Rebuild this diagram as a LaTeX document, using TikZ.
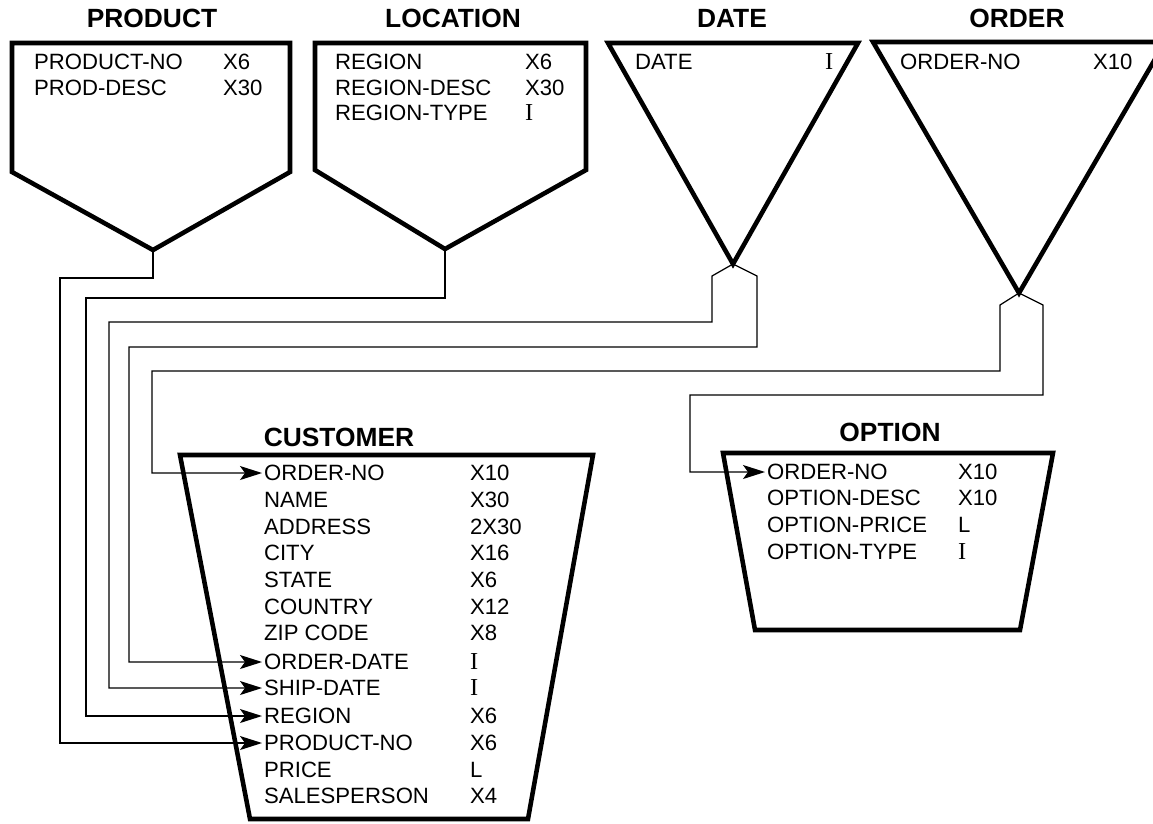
\documentclass[tikz,border=0pt]{standalone}
\usepackage{fontspec}
\setmainfont{Liberation Sans}
\newfontfamily\typefont[Scale=1.1]{Liberation Serif}
\usetikzlibrary{arrows.meta}

\begin{document}
\begin{tikzpicture}[x=0.02cm, y=-0.02cm,
  title/.style={font=\fontsize{15}{18}\selectfont\bfseries},
  fld/.style={font=\fontsize{12.6}{15}\selectfont, anchor=west, inner sep=1pt},
  entity/.style={line width=2.6pt, line join=miter},
  link/.style={line width=0.7pt},
  ref/.style={link, -{Stealth[length=4.4mm, width=2.8mm, inset=1mm]}},
  every node/.style={align=left}
]
\useasboundingbox (0,0) rectangle (1153,823);

% segments
\node[title] (tprod) at (152,18) {PRODUCT};
\draw[entity] (12,43) -- (290,43) -- (290,172) -- (153,250) -- (12,172) -- cycle;
\coordinate (prodtip) at (153,250);
\node[fld] (p1)  at (32,62) {PRODUCT-NO};  \node[fld] (p1t) at (221,62) {X6};
\node[fld] (p2)  at (32,88) {PROD-DESC};   \node[fld] (p2t) at (221,88) {X30};

\node[title] (tloc) at (453,18) {LOCATION};
\draw[entity] (315,43) -- (586,43) -- (586,170) -- (445,249) -- (315,170) -- cycle;
\coordinate (loctip) at (445,249);
\node[fld] (l1)  at (333,62)  {REGION};      \node[fld] (l1t) at (523,62)  {X6};
\node[fld] (l2)  at (333,88)  {REGION-DESC}; \node[fld] (l2t) at (523,88)  {X30};
\node[fld] (l3)  at (333,113) {REGION-TYPE}; \node[fld] (l3t) at (523,113) {\typefont I};

% indexes
\node[title] (tdate) at (732,18) {DATE};
\draw[entity] (608,43) -- (858,43) -- (733,264) -- cycle;
\coordinate (datetip) at (733,264);
\node[fld] (d1)  at (633,62) {DATE};  \node[fld] (d1t) at (823,62) {\typefont I};

\node[title] (tord) at (1017,18) {ORDER};
\draw[entity] (873,42) -- (1165,42) -- (1019,293) -- cycle;
\coordinate (ordtip) at (1019,293);
\node[fld] (r1)  at (898,62) {ORDER-NO};  \node[fld] (r1t) at (1091,62) {X10};

% details
\node[title] (tcust) at (339,437) {CUSTOMER};
\draw[entity] (180,455) -- (593,455) -- (528,819) -- (250,819) -- cycle;
\node[fld] (c1)  at (262,473) {ORDER-NO};    \node[fld] (c1t)  at (468,473) {X10};
\node[fld] (c2)  at (262,500) {NAME};        \node[fld] (c2t)  at (468,500) {X30};
\node[fld] (c3)  at (262,527) {ADDRESS};     \node[fld] (c3t)  at (468,527) {2X30};
\node[fld] (c4)  at (262,553) {CITY};        \node[fld] (c4t)  at (468,553) {X16};
\node[fld] (c5)  at (262,580) {STATE};       \node[fld] (c5t)  at (468,580) {X6};
\node[fld] (c6)  at (262,607) {COUNTRY};     \node[fld] (c6t)  at (468,607) {X12};
\node[fld] (c7)  at (262,633) {ZIP CODE};    \node[fld] (c7t)  at (468,633) {X8};
\node[fld] (c8)  at (262,662) {ORDER-DATE};  \node[fld] (c8t)  at (468,662) {\typefont I};
\node[fld] (c9)  at (262,688) {SHIP-DATE};   \node[fld] (c9t)  at (468,688) {\typefont I};
\node[fld] (c10) at (262,716) {REGION};      \node[fld] (c10t) at (468,716) {X6};
\node[fld] (c11) at (262,743) {PRODUCT-NO};  \node[fld] (c11t) at (468,743) {X6};
\node[fld] (c12) at (262,770) {PRICE};       \node[fld] (c12t) at (468,770) {L};
\node[fld] (c13) at (262,796) {SALESPERSON}; \node[fld] (c13t) at (468,796) {X4};

\node[title] (topt) at (890,432) {OPTION};
\draw[entity] (723,453) -- (1053,453) -- (1020,630) -- (755,630) -- cycle;
\node[fld] (o1)  at (765,472) {ORDER-NO};     \node[fld] (o1t) at (956,472) {X10};
\node[fld] (o2)  at (765,498) {OPTION-DESC};  \node[fld] (o2t) at (956,498) {X10};
\node[fld] (o3)  at (765,525) {OPTION-PRICE}; \node[fld] (o3t) at (956,525) {L};
\node[fld] (o4)  at (765,552) {OPTION-TYPE};  \node[fld] (o4t) at (956,552) {\typefont I};

% links
\draw[ref] (prodtip) |- (60,278) |- (c11.west);
\draw[ref] (loctip) |- (86,298) |- (c10.west);
\draw[ref] (datetip) -- (712,276) |- (109,322) |- (c9.west);
\draw[ref] (datetip) -- (757,276) |- (129,347) |- (c8.west);
\draw[ref] (ordtip) -- (1000,305) |- (152,371) |- (c1.west);
\draw[ref] (ordtip) -- (1043,305) |- (690,395) |- (o1.west);
\end{tikzpicture}
\end{document}
